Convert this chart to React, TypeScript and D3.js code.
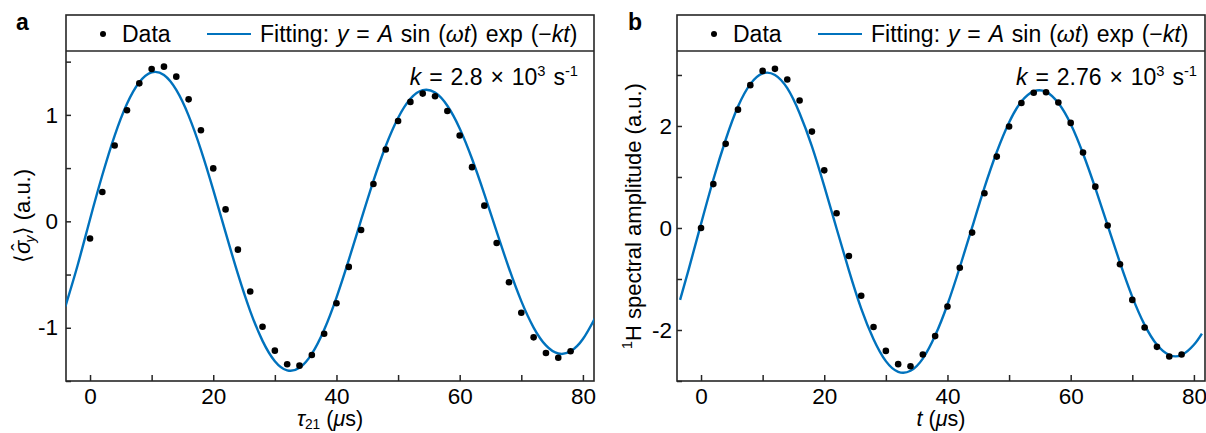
import { useEffect, useRef } from 'react';
import * as d3 from 'd3';

const FONT = '"Liberation Sans", Arial, Helvetica, sans-serif';
const AXIS = '#262626';
const BLUE = '#0072bd';

// measured points, every 2 µs
const sampleTimes = [
  0, 2, 4, 6, 8, 10, 12, 14, 16, 18, 20, 22, 24, 26, 28, 30, 32, 34, 36, 38,
  40, 42, 44, 46, 48, 50, 52, 54, 56, 58, 60, 62, 64, 66, 68, 70, 72, 74, 76, 78,
];
const sigmaY = [
  -0.162, 0.275, 0.712, 1.043, 1.296, 1.431, 1.453, 1.359, 1.146, 0.856,
  0.497, 0.112, -0.266, -0.659, -0.99, -1.215, -1.343, -1.356, -1.256, -1.056,
  -0.769, -0.428, -0.081, 0.35, 0.675, 0.943, 1.122, 1.2, 1.175, 1.037,
  0.806, 0.509, 0.147, -0.203, -0.572, -0.859, -1.09, -1.237, -1.281, -1.221,
];
const protonAmp = [
  0.0, 0.86, 1.65, 2.32, 2.8, 3.08, 3.12, 2.91, 2.5, 1.89,
  1.13, 0.29, -0.55, -1.33, -1.94, -2.41, -2.67, -2.71, -2.48, -2.12,
  -1.54, -0.78, -0.09, 0.68, 1.4, 1.99, 2.45, 2.65, 2.66, 2.46,
  2.06, 1.48, 0.81, 0.05, -0.71, -1.41, -1.95, -2.33, -2.52, -2.48,
];

// fitted curves
const fitTimesA = [
  -4, -2, 0, 2, 4, 6, 8, 10, 12, 14, 16, 18, 20, 22, 24, 26, 28, 30, 32, 34, 36, 38,
  40, 42, 44, 46, 48, 50, 52, 54, 56, 58, 60, 62, 64, 66, 68, 70, 72, 74, 76, 78, 80, 82,
];
const fitA = [
  -0.8, -0.41, 0.02, 0.435, 0.806, 1.105, 1.307, 1.399, 1.374, 1.234, 0.993, 0.672,
  0.296, -0.104, -0.494, -0.843, -1.123, -1.314, -1.4, -1.376, -1.245, -1.019,
  -0.716, -0.362, 0.013, 0.38, 0.708, 0.971, 1.151, 1.232, 1.21, 1.086,
  0.873, 0.588, 0.256, -0.097, -0.441, -0.75, -0.998, -1.166, -1.242, -1.221, -1.106, -0.905,
];
const fitTimesB = [
  -3.4, -2, 0, 2, 4, 6, 8, 10, 12, 14, 16, 18, 20, 22, 24, 26, 28, 30, 32, 34, 36, 38,
  40, 42, 44, 46, 48, 50, 52, 54, 56, 58, 60, 62, 64, 66, 68, 70, 72, 74, 76, 78, 80, 81.3,
];
const fitB = [
  -1.41, -0.81, 0.08, 0.95, 1.73, 2.38, 2.82, 3.03, 3.0, 2.74, 2.25, 1.6,
  0.82, -0.01, -0.83, -1.58, -2.18, -2.61, -2.82, -2.8, -2.56, -2.11,
  -1.5, -0.77, 0.01, 0.79, 1.49, 2.07, 2.48, 2.68, 2.67, 2.45,
  2.04, 1.46, 0.78, 0.05, -0.68, -1.35, -1.9, -2.29, -2.49, -2.49, -2.29, -2.07,
];

const xTicks = [0, 10, 20, 30, 40, 50, 60, 70, 80];
const xTickLabels = [0, 20, 40, 60, 80];
const yTicksA = [-1.5, -1, -0.5, 0, 0.5, 1, 1.5];
const yTickLabelsA = [-1, 0, 1];
const yTicksB = [-3, -2, -1, 0, 1, 2, 3];
const yTickLabelsB = [-2, 0, 2];

type Part = { t: string; i?: boolean; sup?: boolean; sub?: boolean; dx?: number; raise?: number };

const fittingLegend: Part[] = [
  { t: 'Fitting: ' },
  { t: 'y', i: true },
  { t: ' = ' },
  { t: 'A', i: true },
  { t: ' sin (' },
  { t: 'ωt', i: true },
  { t: ') exp (−' },
  { t: 'kt', i: true },
  { t: ')' },
];

function rich(text, parts: Part[], size: number) {
  let shift = 0;
  parts.forEach((p) => {
    const target = p.raise ?? (p.sup ? -0.4 * size : p.sub ? 0.22 * size : 0);
    const ts = text.append('tspan').attr('dy', target - shift).text(p.t);
    shift = target;
    if (p.dx) ts.attr('dx', p.dx);
    if (p.i) ts.attr('font-style', 'italic');
    if (p.sup || p.sub) ts.attr('font-size', size * 0.64);
  });
}

function drawPanel(svg, cfg) {
  const { left, right, top, legendTop, bottom } = cfg;
  const g = svg.append('g');
  const x = d3.scaleLinear().domain([-3.9, 81.8]).range([left, left + 528]);
  const y = d3.scaleLinear().domain(cfg.yDomain).range([bottom, top]);

  const clipId = `clip-${cfg.letter}`;
  g.append('clipPath')
    .attr('id', clipId)
    .append('rect')
    .attr('x', left)
    .attr('y', top)
    .attr('width', right - left)
    .attr('height', bottom - top);

  const gx = g
    .append('g')
    .attr('transform', `translate(0,${bottom})`)
    .call(
      d3
        .axisBottom(x)
        .tickValues(xTicks)
        .tickSize(-6)
        .tickPadding(7)
        .tickFormat((d) => (xTickLabels.includes(d) ? String(d) : '')),
    );
  gx.select('.domain').remove();

  const gy = g
    .append('g')
    .attr('transform', `translate(${left},0)`)
    .call(
      d3
        .axisLeft(y)
        .tickValues(cfg.yTicks)
        .tickSize(-5)
        .tickPadding(cfg.yPad)
        .tickFormat((d) => (cfg.yTickLabels.includes(d) ? String(d) : '')),
    );
  gy.select('.domain').remove();

  [gx, gy].forEach((axis) => {
    axis.attr('font-family', FONT).attr('font-size', 22.5);
    axis.selectAll('line').attr('stroke', AXIS).attr('stroke-width', 1.5);
    axis.selectAll('text').attr('fill', '#000');
  });

  // frame with legend strip on top
  g.append('rect')
    .attr('x', left)
    .attr('y', legendTop)
    .attr('width', right - left)
    .attr('height', bottom - legendTop)
    .attr('fill', 'none')
    .attr('stroke', AXIS)
    .attr('stroke-width', 1.6);
  g.append('line')
    .attr('x1', left)
    .attr('x2', right)
    .attr('y1', top)
    .attr('y2', top)
    .attr('stroke', AXIS)
    .attr('stroke-width', 1.6);

  const line = d3
    .line()
    .x((d) => x(d[0]))
    .y((d) => y(d[1]))
    .curve(d3.curveNatural);

  g.append('path')
    .datum(cfg.fitTimes.map((t, i) => [t, cfg.fit[i]]))
    .attr('d', line)
    .attr('clip-path', `url(#${clipId})`)
    .attr('fill', 'none')
    .attr('stroke', BLUE)
    .attr('stroke-width', 2.4);

  g.selectAll('.dot')
    .data(sampleTimes.map((t, i) => [t, cfg.data[i]]))
    .join('circle')
    .attr('class', 'dot')
    .attr('cx', (d) => x(d[0]))
    .attr('cy', (d) => y(d[1]))
    .attr('r', 3.3)
    .attr('fill', '#000');

  // legend
  const ly = (legendTop + top) / 2;
  g.append('circle').attr('cx', left + 37).attr('cy', ly + 1).attr('r', 3).attr('fill', '#000');
  g.append('text')
    .attr('x', left + 56)
    .attr('y', ly + 9)
    .attr('font-family', FONT)
    .attr('font-size', 23)
    .text('Data');
  g.append('line')
    .attr('x1', left + 141)
    .attr('x2', left + 185)
    .attr('y1', ly + 1)
    .attr('y2', ly + 1)
    .attr('stroke', BLUE)
    .attr('stroke-width', 2);
  rich(
    g.append('text')
      .attr('x', left + 194)
      .attr('y', ly + 9)
      .attr('font-family', FONT)
      .attr('font-size', 23)
      .attr('word-spacing', 1.5),
    fittingLegend,
    23,
  );

  // decay constant
  rich(
    g.append('text')
      .attr('x', cfg.kRight)
      .attr('y', 85)
      .attr('text-anchor', 'end')
      .attr('font-family', FONT)
      .attr('font-size', 23)
      .attr('word-spacing', 1.5),
    [
      { t: 'k', i: true },
      { t: ` = ${cfg.k} × 10` },
      { t: '3', sup: true },
      { t: ' s' },
      { t: '-1', sup: true },
    ],
    23,
  );

  // axis titles
  rich(
    g.append('text')
      .attr('x', (left + right) / 2)
      .attr('y', 426)
      .attr('text-anchor', 'middle')
      .attr('font-family', FONT)
      .attr('font-size', 21.5),
    cfg.xTitle,
    21.5,
  );
  rich(
    g.append('text')
      .attr('transform', `translate(${cfg.yTitleX},${(top + bottom) / 2}) rotate(-90)`)
      .attr('text-anchor', 'middle')
      .attr('font-family', FONT)
      .attr('font-size', 22),
    cfg.yTitle,
    22,
  );

  g.append('text')
    .attr('x', cfg.letterX)
    .attr('y', 30)
    .attr('font-family', FONT)
    .attr('font-weight', 'bold')
    .attr('font-size', 23)
    .text(cfg.letter);
}

export default function App() {
  const ref = useRef(null);

  useEffect(() => {
    const svg = d3.select(ref.current);
    svg.selectAll('*').remove();

    drawPanel(svg, {
      letter: 'a',
      letterX: 16,
      left: 66,
      right: 594,
      legendTop: 15,
      top: 51,
      bottom: 381,
      yDomain: [-1.5, 1.6],
      yTicks: yTicksA,
      yTickLabels: yTickLabelsA,
      yPad: 8,
      data: sigmaY,
      fitTimes: fitTimesA,
      fit: fitA,
      k: '2.8',
      kRight: 578,
      xTitle: [
        { t: 'τ', i: true },
        { t: '21', sub: true, raise: 2.5 },
        { t: ' (' },
        { t: 'μ', i: true },
        { t: 's)' },
      ],
      yTitle: [
        { t: '⟨' },
        { t: 'σ', i: true },
        { t: 'ˆ', dx: -10, raise: -3 },
        { t: 'y', i: true, sub: true, dx: 1 },
        { t: '⟩ (a.u.)' },
      ],
      yTitleX: 30,
    });

    drawPanel(svg, {
      letter: 'b',
      letterX: 628,
      left: 677,
      right: 1205,
      legendTop: 15,
      top: 51,
      bottom: 381,
      yDomain: [-3, 3.47],
      yTicks: yTicksB,
      yTickLabels: yTickLabelsB,
      yPad: 5,
      data: protonAmp,
      fitTimes: fitTimesB,
      fit: fitB,
      k: '2.76',
      kRight: 1197,
      xTitle: [{ t: 't', i: true }, { t: ' (' }, { t: 'μ', i: true }, { t: 's)' }],
      yTitle: [{ t: '1', sup: true }, { t: 'H spectral amplitude (a.u.)' }],
      yTitleX: 641,
    });
  }, []);

  return (
    <>
      <style>{'body{margin:0}'}</style>
      <svg ref={ref} width={1206} height={433} style={{ display: 'block', background: '#fff' }} />
    </>
  );
}
